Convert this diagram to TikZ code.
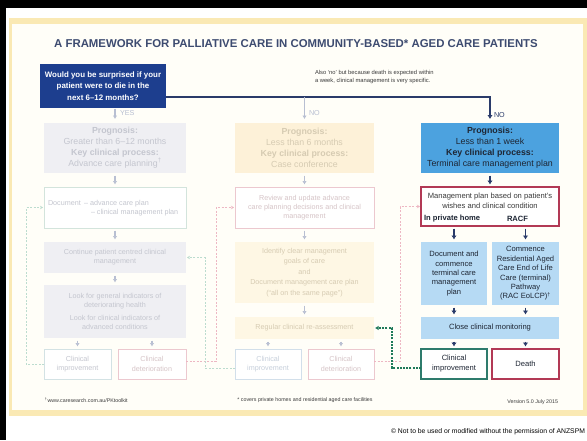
\documentclass[tikz,border=0pt]{standalone}
\usepackage{fontspec}
\setmainfont{Liberation Sans}
\usetikzlibrary{arrows.meta}
\definecolor{qblue}{HTML}{1D3E8E}
\definecolor{navy}{HTML}{2A3B6A}
\definecolor{titlec}{HTML}{3D4B70}
\definecolor{rblue}{HTML}{4CA2DF}
\definecolor{lblue}{HTML}{B6DAF4}
\definecolor{crim}{HTML}{B23955}
\definecolor{tealc}{HTML}{2E7B6C}
\definecolor{sgreen}{HTML}{1F7A5A}
\definecolor{lgfill}{HTML}{EFEFF3}
\definecolor{lgtext}{HTML}{C4C6CF}
\definecolor{mfill}{HTML}{FDF1D8}
\definecolor{mfill2}{HTML}{FEF7E4}
\definecolor{mtext}{HTML}{D6CBB2}
\definecolor{pinkb}{HTML}{ECC8CF}
\definecolor{pinkt}{HTML}{D6C4C7}
\definecolor{greenb}{HTML}{D3E4DC}
\definecolor{blueb}{HTML}{D2DFEA}
\definecolor{bluet}{HTML}{C6CFDB}
\definecolor{greyb}{HTML}{D3E2E4}
\definecolor{farrow}{HTML}{B8BFD2}
\definecolor{fgreen}{HTML}{BCDCCF}
\definecolor{fred}{HTML}{EDB7C3}
\definecolor{yband}{HTML}{FAE9B4}
\definecolor{cream}{HTML}{FFFEF8}
\definecolor{dtext}{HTML}{1E2634}
\definecolor{mgrey}{HTML}{3A3A3A}
\newcommand\zztitle{\fontsize{11.4}{13}\selectfont\bfseries}
\newcommand\zzq{\fontsize{7.9}{11.5}\selectfont\bfseries}
\newcommand\zznote{\fontsize{5.8}{8.2}\selectfont}
\newcommand\zzprog{\fontsize{8.8}{11}\selectfont}
\newcommand\zzf{\fontsize{7.2}{9.2}\selectfont}
\newcommand\zzid{\fontsize{7.2}{10.4}\selectfont}
\newcommand\zzr{\fontsize{7.6}{10}\selectfont}
\newcommand\zzsub{\fontsize{7.6}{9.4}\selectfont}
\newcommand\zzlbl{\fontsize{7.2}{9}\selectfont}
\newcommand\zzsmall{\fontsize{5.3}{7}\selectfont}
\newcommand\zzcopy{\fontsize{6.8}{8}\selectfont}
\begin{document}
\begin{tikzpicture}[x=1pt,y=-1pt,
  every node/.style={inner sep=0pt,outer sep=0pt},
  bx/.style 2 args={minimum width=#1pt,minimum height=#2pt,align=center},
  farr/.style={draw=farrow,line width=1.1pt,-{Latex[length=3.5pt,width=4.5pt]},shorten <=2.5pt,shorten >=2.5pt},
  narr/.style={draw=navy,line width=1.5pt,-{Latex[length=4pt,width=5.5pt]},shorten <=2.5pt,shorten >=2.5pt},
  fgdot/.style={draw=fgreen,line width=1pt,dash pattern=on 2pt off 1.5pt,-{Stealth[length=3pt,width=3.5pt]},shorten >=1pt},
  frdot/.style={draw=fred,line width=1pt,dash pattern=on 2pt off 1.5pt,-{Stealth[length=3pt,width=3.5pt]},shorten >=1pt},
  sgdot/.style={draw=sgreen,line width=1.6pt,dash pattern=on 2pt off 1.2pt,-{Latex[length=3.5pt,width=4.5pt]},shorten >=1pt}]
\useasboundingbox (0,0) rectangle (587,440);
% background
\fill[white] (0,0) rectangle (587,440);
\fill[black] (0,0) rectangle (587,8);
\fill[black] (0,0) rectangle (6,440);
\fill[yband] (9,18) rectangle (587,416);
\fill[cream] (12,24) rectangle (583,410);
% title and question
\node[font=\zztitle,text=titlec] (title) at (296,44) {A FRAMEWORK FOR PALLIATIVE CARE IN COMMUNITY-BASED* AGED CARE PATIENTS};
\node[bx={126}{44},fill=qblue,text=white,font=\zzq] (Q) at (103,86) {Would you be surprised if your\\patient were to die in the\\next 6--12 months?};
\node[font=\zznote,text=mgrey,align=left,anchor=west] (note) at (315,77) {Also ‘no’ but because death is expected within\\a week, clinical management is very specific.};
% left column
\node[bx={142}{50},fill=lgfill,text=lgtext,font=\zzprog] (Lprog) at (115,148) {\textbf{Prognosis:}\\Greater than 6--12 months\\\textbf{Key clinical process:}\\Advance care planning\textsuperscript{†}};
\node[bx={142}{41},draw=greenb,line width=0.8pt,fill=white] (Ldoc) at (115,207.5) {};
\node[anchor=west,font=\zzf,text=lgtext] (Ldoca) at (48,203.5) {Document \,– advance care plan};
\node[anchor=west,font=\zzf,text=lgtext] (Ldocb) at (91,213) {– clinical management plan};
\node[bx={142}{31},fill=lgfill,text=lgtext,font=\zzf] (Lcont) at (115,257.5) {Continue patient centred clinical\\management};
\node[bx={142}{53},fill=lgfill,text=lgtext,font=\zzf] (Llook) at (115,311.5) {Look for general indicators of\\deteriorating health\\[3.5pt]Look for clinical indicators of\\advanced conditions};
\node[bx={67}{30},draw=greyb,line width=0.8pt,fill=white,text=lgtext,font=\zzf] (Limp) at (77.5,364) {Clinical\\improvement};
\node[bx={68}{30},draw=pinkb,line width=0.8pt,fill=white,text=pinkt,font=\zzf] (Ldet) at (152,364) {Clinical\\deterioration};
% middle column
\node[bx={139}{50},fill=mfill,text=mtext,font=\zzprog] (Mprog) at (304.5,148) {\textbf{Prognosis:}\\Less than 6 months\\\textbf{Key clinical process:}\\Case conference};
\node[bx={139}{41},draw=pinkb,line width=0.8pt,fill=white,text=pinkt,font=\zzf] (Mrev) at (304.5,207.5) {Review and update advance\\care planning decisions and clinical\\management};
\node[bx={139}{61},fill=mfill2,text=mtext,font=\zzid] (Mid) at (304.5,272.5) {Identify clear management\\goals of care\\and\\Document management care plan\\(“all on the same page”)};
\node[bx={139}{22},fill=mfill2,text=mtext,font=\zzf] (Mreg) at (304.5,328) {Regular clinical re-assessment};
\node[bx={66}{30},draw=blueb,line width=0.8pt,fill=white,text=bluet,font=\zzf] (Mimp) at (268,364) {Clinical\\improvement};
\node[bx={66}{30},draw=pinkb,line width=0.8pt,fill=white,text=pinkt,font=\zzf] (Mdet) at (341,364) {Clinical\\deterioration};
% right column
\node[bx={138}{50},fill=rblue,text=dtext,font=\zzprog] (Rprog) at (490,148) {\textbf{Prognosis:}\\Less than 1 week\\\textbf{Key clinical process:}\\Terminal care management plan};
\node[bx={138}{39},draw=crim,line width=1.2pt,fill=white] (Rman) at (490,206.5) {};
\node[font=\zzr,text=mgrey,align=center] (Rmant) at (490,201) {Management plan based on patient's\\wishes and clinical condition};
\node[font=\zzr\bfseries,text=dtext,anchor=west] (Rmanh) at (424,219) {In private home};
\node[font=\zzr\bfseries,text=dtext,anchor=west] (Rmanr) at (507,219) {RACF};
\node[bx={66}{63},fill=lblue,text=dtext,font=\zzsub] (Rdoc) at (454,273.5) {Document and\\commence\\terminal care\\management\\plan};
\node[bx={67}{63},fill=lblue,text=dtext,font=\zzsub] (Rcom) at (525.5,273.5) {Commence\\Residential Aged\\Care End of Life\\Care (terminal)\\Pathway\\(RAC EoLCP)\textsuperscript{†}};
\node[bx={138}{22},fill=lblue,text=dtext,font=\zzr] (Rclose) at (490,328) {Close clinical monitoring};
\node[bx={66}{30},draw=tealc,line width=1.2pt,fill=white,text=dtext,font=\zzr] (Rimp) at (454,364) {Clinical\\improvement};
\node[bx={67}{30},draw=crim,line width=1.2pt,fill=white,text=dtext,font=\zzr] (Rdeath) at (525.5,364) {Death};
% top connectors
\coordinate (qj) at (166,97);
\draw[navy,line width=1.5pt,-{Latex[length=4pt,width=5.5pt]},shorten >=4pt] (qj) -| (Rprog.north);
\draw[farr,shorten <=0pt,shorten >=4pt] (Mprog.north |- qj) -- (Mprog.north);
\draw[farr,shorten <=0.5pt,shorten >=4pt] (Q.south -| Lprog.north) -- (Lprog.north);
\node[font=\zzlbl,text=farrow,anchor=west] (yes) at (120,113) {YES};
\node[font=\zzlbl,text=farrow,anchor=west] (nom) at (309,113) {NO};
\node[font=\zzlbl,text=navy,anchor=west] (nor) at (494,115) {NO};
% column arrows
\foreach \a/\b in {Lprog/Ldoc,Ldoc/Lcont,Lcont/Llook,Mprog/Mrev,Mrev/Mid,Mid/Mreg}
  \draw[farr] (\a.south) -- (\b.north);
\draw[farr] (Llook.south -| Limp.north) -- (Limp.north);
\draw[farr] (Llook.south -| Ldet.north) -- (Ldet.north);
\draw[farr] (Mreg.south -| Mimp.north) -- (Mimp.north);
\draw[farr] (Mreg.south -| Mdet.north) -- (Mdet.north);
\draw[narr] (Rprog.south) -- (Rman.north);
\draw[narr] (Rman.south -| Rdoc.north) -- (Rdoc.north);
\draw[narr] (Rman.south -| Rcom.north) -- (Rcom.north);
\draw[narr] (Rdoc.south) -- (Rclose.north -| Rdoc.south);
\draw[narr] (Rcom.south) -- (Rclose.north -| Rcom.south);
\draw[narr] (Rclose.south -| Rimp.north) -- (Rimp.north);
\draw[narr] (Rclose.south -| Rdeath.north) -- (Rdeath.north);
% feedback loops
\draw[fgdot] (Limp.west) -- ++(-18,0) |- (Ldoc.west);
\draw[frdot] ([yshift=3pt]Ldet.east) -- ++(30,0) |- (Mrev.west);
\draw[fgdot] ([yshift=-4pt]Mimp.west) -- ++(-30,0) |- (Lcont.east);
\draw[frdot] ([yshift=3pt]Mdet.east) -- ++(26,0) |- (Rman.west);
\draw[sgdot] ([yshift=-4pt]Rimp.west) -- ++(-29,0) |- (Mreg.east);
% footer
\node[font=\zzsmall,text=mgrey,anchor=west] (web) at (45,400) {\textsuperscript{†}www.caresearch.com.au/PKtoolkit};
\node[font=\zzsmall,text=mgrey] (foot) at (305,400) {* covers private homes and residential aged care facilities};
\node[font=\zzsmall,text=mgrey,anchor=east] (ver) at (558,402) {Version 5.0 July 2015};
\node[font=\zzcopy,text=black,anchor=east] (copy) at (585,432) {© Not to be used or modified without the permission of ANZSPM};
\end{tikzpicture}
\end{document}
